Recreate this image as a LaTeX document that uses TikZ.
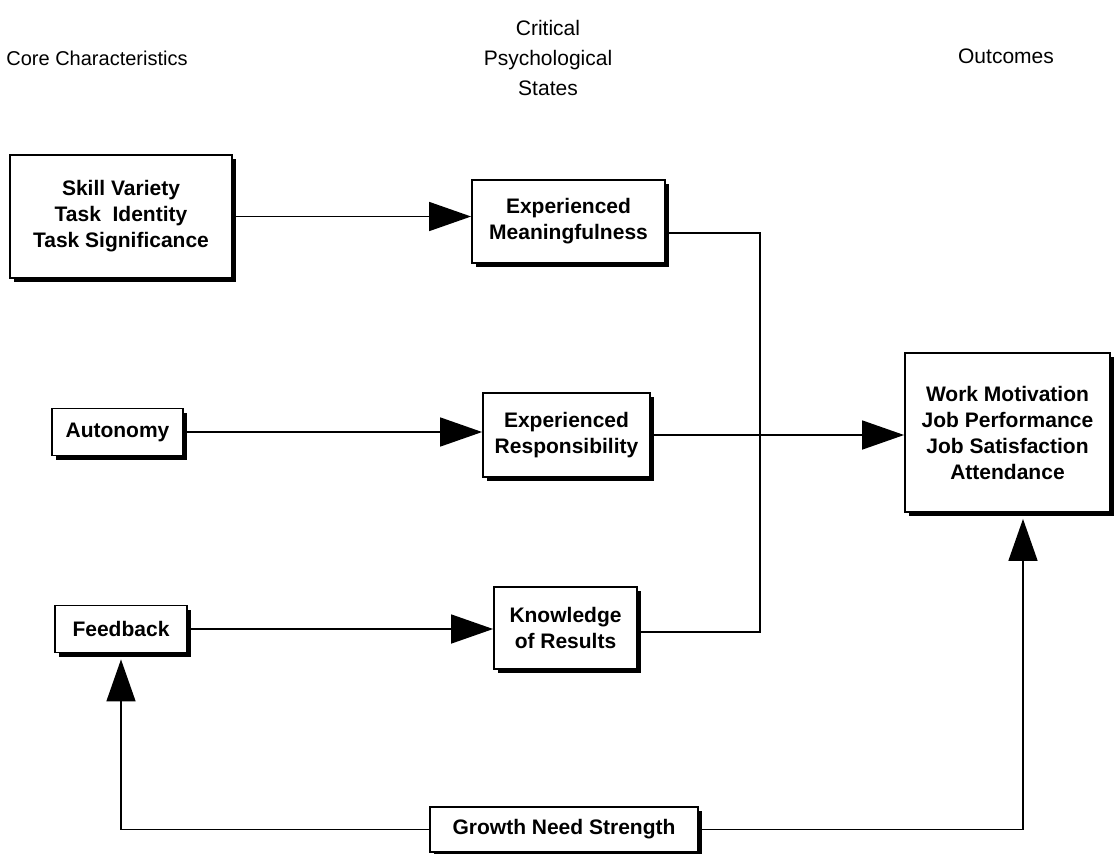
\documentclass[tikz,border=0pt]{standalone}
\usepackage{fontspec}
\setmainfont{Liberation Sans}
\usepackage{tikz}
\usetikzlibrary{arrows.meta, positioning, shadows}

\begin{document}
\begin{tikzpicture}[x=0.5pt, y=-0.5pt, >={Triangle[length=21pt, width=14.5pt]},
    head/.style={font=\fontsize{10.5}{15}\selectfont, align=center},
    card/.style={draw, line width=0.9pt, fill=white, align=center, inner sep=0pt,
        font=\fontsize{10.5}{13}\selectfont\bfseries,
        drop shadow={shadow xshift=2.2pt, shadow yshift=-2.2pt, fill=black, opacity=1}},
    link/.style={line width=0.8pt}]
    \useasboundingbox (0,0) rectangle (1114,853);
    % column headings
    \node[head, font=\fontsize{10}{15}\selectfont] (hcore) at (97,58) {Core Characteristics};
    \node[head] (hstate) at (548,58) {Critical\\Psychological\\States};
    \node[head] (hout) at (1006,56) {Outcomes};
    % boxes
    \node[card, minimum width=111pt, minimum height=61.5pt] (core) at (121,216.5) {Skill Variety\\Task\ \ Identity\\Task Significance};
    \node[card, minimum width=65.5pt, minimum height=23.5pt] (auto) at (117.5,432) {Autonomy};
    \node[card, minimum width=66pt, minimum height=23.5pt] (feed) at (121,629) {Feedback};
    \node[card, minimum width=96.5pt, minimum height=41.5pt] (mean) at (568.5,221.5) {Experienced\\Meaningfulness};
    \node[card, minimum width=83.5pt, minimum height=42pt] (resp) at (566.5,435) {Experienced\\Responsibility};
    \node[card, minimum width=71.5pt, minimum height=41pt] (know) at (565.5,628) {Knowledge\\of Results};
    \node[card, minimum width=102.5pt, minimum height=79.5pt] (outc) at (1007.5,432.5) {Work Motivation\\Job Performance\\Job Satisfaction\\Attendance};
    \node[card, minimum width=134pt, minimum height=22.5pt] (grow) at (564,829.5) {Growth Need Strength};
    % core -> states
    \draw[link, ->] (core.east) -- (core.east -| mean.west);
    \draw[link, ->] (auto.east) -- (auto.east -| resp.west);
    \draw[link, ->] (feed.east) -- (feed.east -| know.west);
    % states -> outcomes
    \coordinate (bustop) at (760,233);
    \coordinate (busbot) at (760,632);
    \draw[link] (mean.east |- bustop) -- (bustop) -- (busbot) -- (know.east |- busbot);
    \draw[link, ->] (resp.east) -- (resp.east -| outc.west);
    % growth need strength
    \draw[link, ->] (grow.west) -| ([yshift=-3pt]feed.south);
    \draw[link, ->] (grow.east) -| ([xshift=7.75pt, yshift=-3pt]outc.south);
\end{tikzpicture}
\end{document}
